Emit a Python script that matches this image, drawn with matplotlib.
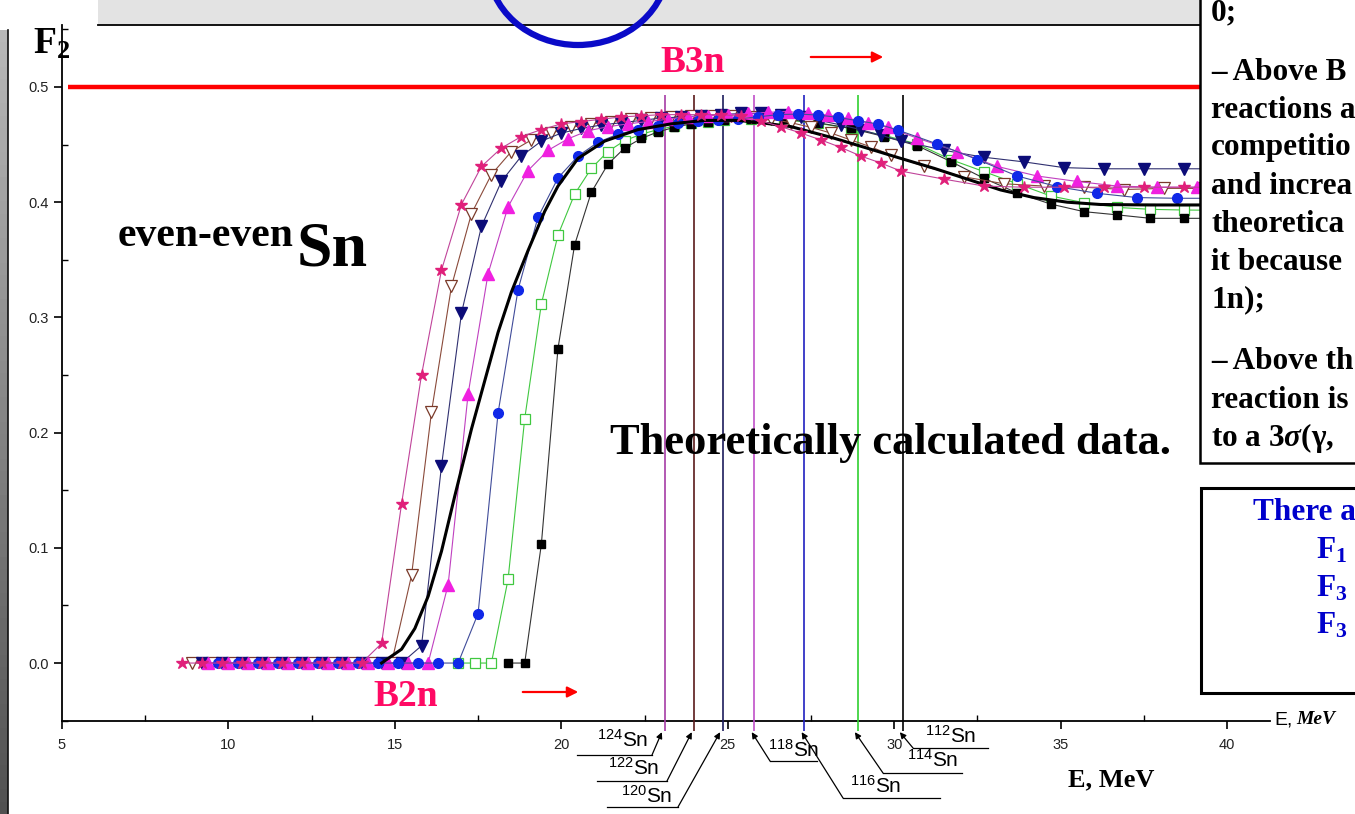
import numpy as np
import matplotlib
matplotlib.use("Agg")
import matplotlib.pyplot as plt
from matplotlib.patches import Rectangle, Ellipse, FancyArrowPatch
from matplotlib.lines import Line2D
from matplotlib.ticker import MultipleLocator, FormatStrFormatter

plt.rcParams["mathtext.fontset"] = "custom"
plt.rcParams["mathtext.rm"] = "Liberation Sans"
plt.rcParams["mathtext.bf"] = "Liberation Serif:bold"
plt.rcParams["mathtext.it"] = "Liberation Serif:italic:bold"

# ---- F2 curves for the even-even Sn isotopes (E in MeV) ----
e_124 = [8.6, 9.2, 9.8, 10.4, 11.0, 11.6, 12.2, 12.8, 13.4, 14.0, 14.6, 15.2, 15.8,
         16.4, 17.0, 17.6, 18.2, 18.8, 19.4, 20.0, 20.6, 21.2, 21.8, 22.4, 23.0, 23.6,
         24.2, 24.8, 25.4, 26.0, 26.6, 27.2, 27.8, 28.4, 29.0, 29.6, 30.2, 31.5, 32.7,
         33.9, 35.1, 36.3, 37.5, 38.7, 39.9]
f2_124 = [0, 0, 0, 0, 0, 0, 0, 0, 0, 0, 0.017, 0.138, 0.250, 0.341, 0.398, 0.431,
          0.447, 0.457, 0.463, 0.468, 0.470, 0.472, 0.474, 0.475, 0.476, 0.476, 0.476,
          0.476, 0.4745, 0.4705, 0.4655, 0.460, 0.454, 0.4475, 0.440, 0.434, 0.427,
          0.420, 0.414, 0.413, 0.413, 0.413, 0.413, 0.413, 0.413]

e_122 = [8.9, 9.5, 10.1, 10.7, 11.3, 11.9, 12.5, 13.1, 13.7, 14.3, 14.9, 15.5, 16.1,
         16.7, 17.3, 17.9, 18.5, 19.1, 19.7, 20.3, 20.9, 21.5, 22.1, 22.7, 23.3, 23.9,
         24.5, 25.1, 25.7, 26.3, 26.9, 27.5, 28.1, 28.7, 29.3, 29.9, 30.9, 32.1, 33.3,
         34.5, 35.7, 36.9, 38.1, 39.3]
f2_122 = [0, 0, 0, 0, 0, 0, 0, 0, 0, 0, 0, 0.076, 0.218, 0.327, 0.390, 0.424, 0.444,
          0.454, 0.460, 0.465, 0.468, 0.470, 0.472, 0.473, 0.474, 0.475, 0.475, 0.475,
          0.474, 0.472, 0.469, 0.465, 0.460, 0.454, 0.448, 0.441, 0.431, 0.422, 0.416,
          0.414, 0.413, 0.411, 0.412, 0.412]

e_120 = [9.2, 9.8, 10.4, 11.0, 11.6, 12.2, 12.8, 13.4, 14.0, 14.6, 15.2, 15.8, 16.4,
         17.0, 17.6, 18.2, 18.8, 19.4, 20.0, 20.6, 21.2, 21.8, 22.4, 23.0, 23.6, 24.2,
         24.8, 25.4, 26.0, 26.6, 27.2, 27.8, 28.4, 29.0, 29.6, 30.2, 31.5, 32.7, 33.9,
         35.1, 36.3, 37.5, 38.7, 39.9]
f2_120 = [0, 0, 0, 0, 0, 0, 0, 0, 0, 0, 0, 0.015, 0.171, 0.3035, 0.379, 0.418, 0.440,
          0.453, 0.460, 0.464, 0.467, 0.469, 0.471, 0.473, 0.474, 0.475, 0.476, 0.477,
          0.477, 0.4757, 0.4737, 0.4707, 0.467, 0.463, 0.458, 0.4534, 0.445, 0.439,
          0.435, 0.430, 0.429, 0.429, 0.429, 0.429]

e_118 = [9.4, 10.0, 10.6, 11.2, 11.8, 12.4, 13.0, 13.6, 14.2, 14.8, 15.4, 16.0, 16.6,
         17.2, 17.8, 18.4, 19.0, 19.6, 20.2, 20.8, 21.4, 22.0, 22.6, 23.2, 23.8, 24.4,
         25.0, 25.6, 26.2, 26.8, 27.4, 28.0, 28.6, 29.2, 29.8, 30.7, 31.9, 33.1, 34.3,
         35.5, 36.7, 37.9, 39.1]
f2_118 = [0, 0, 0, 0, 0, 0, 0, 0, 0, 0, 0, 0, 0.068, 0.2335, 0.338, 0.396, 0.4275,
          0.445, 0.455, 0.462, 0.4655, 0.468, 0.470, 0.472, 0.474, 0.475, 0.476, 0.477,
          0.478, 0.4787, 0.477, 0.4757, 0.4728, 0.469, 0.465, 0.4555, 0.444, 0.431,
          0.4227, 0.418, 0.414, 0.413, 0.413]

e_116 = [9.7, 10.3, 10.9, 11.5, 12.1, 12.7, 13.3, 13.9, 14.5, 15.1, 15.7, 16.3, 16.9,
         17.5, 18.1, 18.7, 19.3, 19.9, 20.5, 21.1, 21.7, 22.3, 22.9, 23.5, 24.1, 24.7,
         25.3, 25.9, 26.5, 27.1, 27.7, 28.3, 28.9, 29.5, 30.1, 31.3, 32.5, 33.7, 34.9,
         36.1, 37.3, 38.5, 39.7]
f2_116 = [0, 0, 0, 0, 0, 0, 0, 0, 0, 0, 0, 0, 0, 0.043, 0.217, 0.324, 0.387, 0.421,
          0.440, 0.452, 0.459, 0.463, 0.4665, 0.469, 0.4707, 0.471, 0.4725, 0.474,
          0.476, 0.4765, 0.4757, 0.4737, 0.4707, 0.468, 0.4627, 0.4505, 0.437, 0.4227,
          0.4135, 0.4077, 0.404, 0.4034, 0.4034]

e_114 = [16.9, 17.4, 17.9, 18.4, 18.9, 19.4, 19.9, 20.4, 20.9, 21.4, 21.9, 22.4, 22.9,
         23.4, 23.9, 24.4, 24.9, 25.7, 26.7, 27.7, 28.7, 29.7, 30.7, 31.7, 32.7, 33.7,
         34.7, 35.7, 36.7, 37.7, 38.7, 39.7]
f2_114 = [0, 0, 0, 0.0726, 0.212, 0.3116, 0.3715, 0.407, 0.4293, 0.444, 0.4534, 0.459,
          0.463, 0.466, 0.4685, 0.470, 0.471, 0.472, 0.4715, 0.4685, 0.464, 0.458,
          0.4505, 0.437, 0.4265, 0.416, 0.4054, 0.3996, 0.3955, 0.3938, 0.3932, 0.393]

e_112 = [18.4, 18.9, 19.4, 19.9, 20.4, 20.9, 21.4, 21.9, 22.4, 22.9, 23.4, 23.9, 24.4,
         24.9, 25.7, 26.7, 27.7, 28.7, 29.7, 30.7, 31.7, 32.7, 33.7, 34.7, 35.7, 36.7,
         37.7, 38.7, 39.7]
f2_112 = [0, 0, 0.103, 0.273, 0.363, 0.4085, 0.433, 0.447, 0.4553, 0.461, 0.465, 0.468,
          0.470, 0.471, 0.472, 0.472, 0.469, 0.464, 0.457, 0.449, 0.4353, 0.4207, 0.408,
          0.3984, 0.3918, 0.389, 0.386, 0.386, 0.386]

# heavy curve without markers
e_bold = [14.6, 15.2, 15.6, 16.0, 16.4, 16.8, 17.3, 17.7, 18.1, 18.5, 19.0, 19.5, 19.9,
          20.5, 21.3, 22.3, 23.3, 24.3, 25.3, 26.0, 26.9, 28.2, 29.2, 30.2, 31.2, 32.2,
          33.2, 34.2, 35.2, 36.2, 37.7, 39.2, 41.0]
f2_bold = [0.0, 0.012, 0.030, 0.058, 0.097, 0.145, 0.203, 0.245, 0.287, 0.322, 0.358,
           0.392, 0.414, 0.438, 0.453, 0.463, 0.468, 0.471, 0.471, 0.469, 0.4656,
           0.4555, 0.4468, 0.438, 0.4294, 0.420, 0.4106, 0.404, 0.400, 0.398, 0.3976,
           0.3976, 0.3976]

f2_limit = 0.5

# B3n thresholds (MeV)
iso_names = ["124", "122", "120", "118", "116", "114", "112"]
b3n = [23.1, 24.0, 24.85, 25.8, 27.3, 28.9, 30.25]
b3n_colors = ["#A63CA6", "#5A1A1A", "#1C1C5C", "#C050C8", "#2020C0", "#30D030", "#000000"]

W, H = 1355, 814
fig = plt.figure(figsize=(W / 100, H / 100), dpi=100)
fig.patch.set_facecolor("white")


def fx(px):
    return px / W


def fy(py):
    return 1 - py / H


ax = fig.add_axes([fx(62), fy(721), (1270 - 62) / W, (721 - 25) / H])
ax.set_xlim(5, 41.29)
ax.set_ylim(-0.0503, 0.5538)
for s in ("top", "right"):
    ax.spines[s].set_visible(False)
for s in ("left", "bottom"):
    ax.spines[s].set_linewidth(1.3)
ax.xaxis.set_major_locator(MultipleLocator(5))
ax.xaxis.set_minor_locator(MultipleLocator(2.5))
ax.yaxis.set_major_locator(MultipleLocator(0.1))
ax.yaxis.set_minor_locator(MultipleLocator(0.05))
ax.yaxis.set_major_formatter(FormatStrFormatter("%.1f"))
ax.tick_params(which="major", direction="out", length=6, width=1.2,
               labelsize=10.5, labelcolor="#222222")
ax.tick_params(which="minor", direction="in", length=4, width=1.0)
for lab in ax.get_xticklabels() + ax.get_yticklabels():
    lab.set_fontfamily("Liberation Sans")
ax.tick_params(axis="x", pad=6)

ax.hlines(f2_limit, 5.18, 41.3, color="#FF0000", lw=3.2, zorder=2)

ax.vlines(b3n, -0.059, 0.493, colors=b3n_colors, lw=1.2, zorder=3, clip_on=False)

ax.plot(e_124, f2_124, "-", color="#C0449A", lw=0.8, marker="*", ms=9,
        mfc="#E0207A", mec="#E0207A", zorder=6)
ax.plot(e_122, f2_122, "-", color="#8A4A3A", lw=0.8, marker="v", ms=8,
        mfc="white", mec="#7A3A2A", mew=0.9, zorder=5)
ax.plot(e_120, f2_120, "-", color="#303070", lw=0.8, marker="v", ms=8,
        mfc="#0C0C78", mec="#0C0C78", zorder=5)
ax.plot(e_118, f2_118, "-", color="#C040C0", lw=0.8, marker="^", ms=8,
        mfc="#F020E0", mec="#F020E0", zorder=5)
ax.plot(e_116, f2_116, "-", color="#404C9A", lw=0.8, marker="o", ms=7,
        mfc="#1028E8", mec="#1028E8", zorder=5)
ax.plot(e_114, f2_114, "-", color="#40C840", lw=0.8, marker="s", ms=6.5,
        mfc="white", mec="#40C840", mew=0.9, zorder=4)
ax.plot(e_112, f2_112, "-", color="#333333", lw=0.8, marker="s", ms=6,
        mfc="black", mec="black", zorder=4)
ax.plot(e_bold, f2_bold, "-", color="black", lw=2.2, zorder=5)

serif = "Liberation Serif"

# isotope labels under the axis, with leader lines to each B3n line
lab_pos = [(597, 740), (608, 768), (621, 796), (768, 750), (850, 786), (907, 760), (925, 736)]
ul_pos = [(577, 652, 755), (597, 667, 781), (607, 678, 807), (770, 817, 761),
          (843, 940, 798), (883, 962, 773), (913, 988, 748)]
ul_end = [652, 667, 678, 770, 843, 883, 913]
for name, e, (lx, ly), (u0, u1, uy), ue in zip(iso_names, b3n, lab_pos, ul_pos, ul_end):
    fig.text(fx(lx), fy(ly), r"$^{%s}$Sn" % name, fontsize=15,
             family="Liberation Sans", va="center", ha="left")
    fig.add_artist(Line2D([fx(u0), fx(u1)], [fy(uy), fy(uy)], color="black", lw=0.9))
    ax.annotate("", xy=(e - 0.08, -0.06), xycoords="data",
                xytext=(fx(ue), fy(uy)), textcoords="figure fraction",
                annotation_clip=False,
                arrowprops=dict(arrowstyle="-|>", color="black", lw=0.9,
                                mutation_scale=9, shrinkA=0, shrinkB=0))

# plot annotations
fig.text(fx(118), fy(246), "even-even", fontsize=30, family=serif,
         fontweight="bold", va="baseline", ha="left")
fig.text(fx(297), fy(266), "Sn", fontsize=46, family=serif,
         fontweight="bold", va="baseline", ha="left")
fig.text(fx(890), fy(443), "Theoretically calculated data.", fontsize=32,
         family=serif, fontweight="bold", va="center", ha="center", zorder=7)
fig.text(fx(693), fy(62), "B3n", fontsize=27, family=serif, fontweight="bold",
         color="#FF0A64", va="center", ha="center")
fig.text(fx(406), fy(697), "B2n", fontsize=27, family=serif, fontweight="bold",
         color="#FF0A64", va="center", ha="center")
for (x0, x1, yy) in [(808, 886, 57), (520, 581, 692)]:
    fig.add_artist(FancyArrowPatch((fx(x0), fy(yy)), (fx(x1), fy(yy)),
                                   transform=fig.transFigure, arrowstyle="-|>",
                                   mutation_scale=16, color="#FF0000", lw=1.6))

fig.text(fx(1111), fy(780), "E, MeV", fontsize=19, family=serif,
         fontweight="bold", va="center", ha="center")
fig.text(fx(1274), fy(720), "E,", fontsize=14, family="Liberation Sans",
         va="center", ha="left", zorder=7)
fig.text(fx(1296), fy(720), "MeV", fontsize=14, family=serif, fontweight="bold",
         style="italic", va="center", ha="left", zorder=7)

# slide decorations: header band, corner box, left strip, ellipse
fig.add_artist(Rectangle((fx(98), fy(25)), (1200 - 98) / W, 25 / H,
                         transform=fig.transFigure, facecolor="#E3E3E3",
                         edgecolor="none", zorder=2))
fig.add_artist(Line2D([fx(98), fx(1200)], [fy(25), fy(25)], color="black",
                      lw=1.3, zorder=3))
strip = fig.add_axes([0, 0, 8 / W, fy(30)])
strip.imshow(np.linspace(0.72, 0.32, 64).reshape(-1, 1), cmap="gray",
             vmin=0, vmax=1, aspect="auto")
strip.axis("off")
fig.add_artist(Line2D([fx(8), fx(8)], [0, fy(30)], color="#111111", lw=1.2))
fig.add_artist(Ellipse((fx(578), fy(-35)), 180 / W, 160 / H,
                       transform=fig.transFigure, facecolor="none",
                       edgecolor="#0A0AC8", lw=4.5, zorder=4))
fig.text(fx(33), fy(44), r"$\mathbf{F_2}$", fontsize=27, va="center", ha="left")

# text boxes on the right
fig.add_artist(Rectangle((fx(1200), fy(463)), 1, 1, transform=fig.transFigure,
                         facecolor="white", edgecolor="black", lw=1.8, zorder=8))
fig.add_artist(Rectangle((fx(1201), fy(693)), 1, (693 - 488) / H,
                         transform=fig.transFigure, facecolor="white",
                         edgecolor="black", lw=2.2, zorder=8))
box_lines = [("0;", 13), ("– Above B", 72), ("reactions a", 110),
             ("competitio", 148), ("and increa", 186), ("theoretica", 224),
             ("it because", 262), ("1n);", 300), ("– Above th", 362),
             ("reaction is", 400), (r"to a 3$\sigma$(γ,", 438)]
for txt, yy in box_lines:
    fig.text(fx(1211), fy(yy), txt, fontsize=22.5, family=serif, fontweight="bold",
             va="center", ha="left", zorder=9)
fig.text(fx(1253), fy(512), "There a", fontsize=22.5, family=serif,
         fontweight="bold", color="#0000CC", va="center", ha="left", zorder=9)
for sub, yy in [("1", 550), ("3", 588), ("3", 625)]:
    fig.text(fx(1316), fy(yy), r"$\mathbf{F_%s}$" % sub, fontsize=22.5,
             color="#0000CC", va="center", ha="left", zorder=9)

fig.savefig("out.png", dpi=100)
